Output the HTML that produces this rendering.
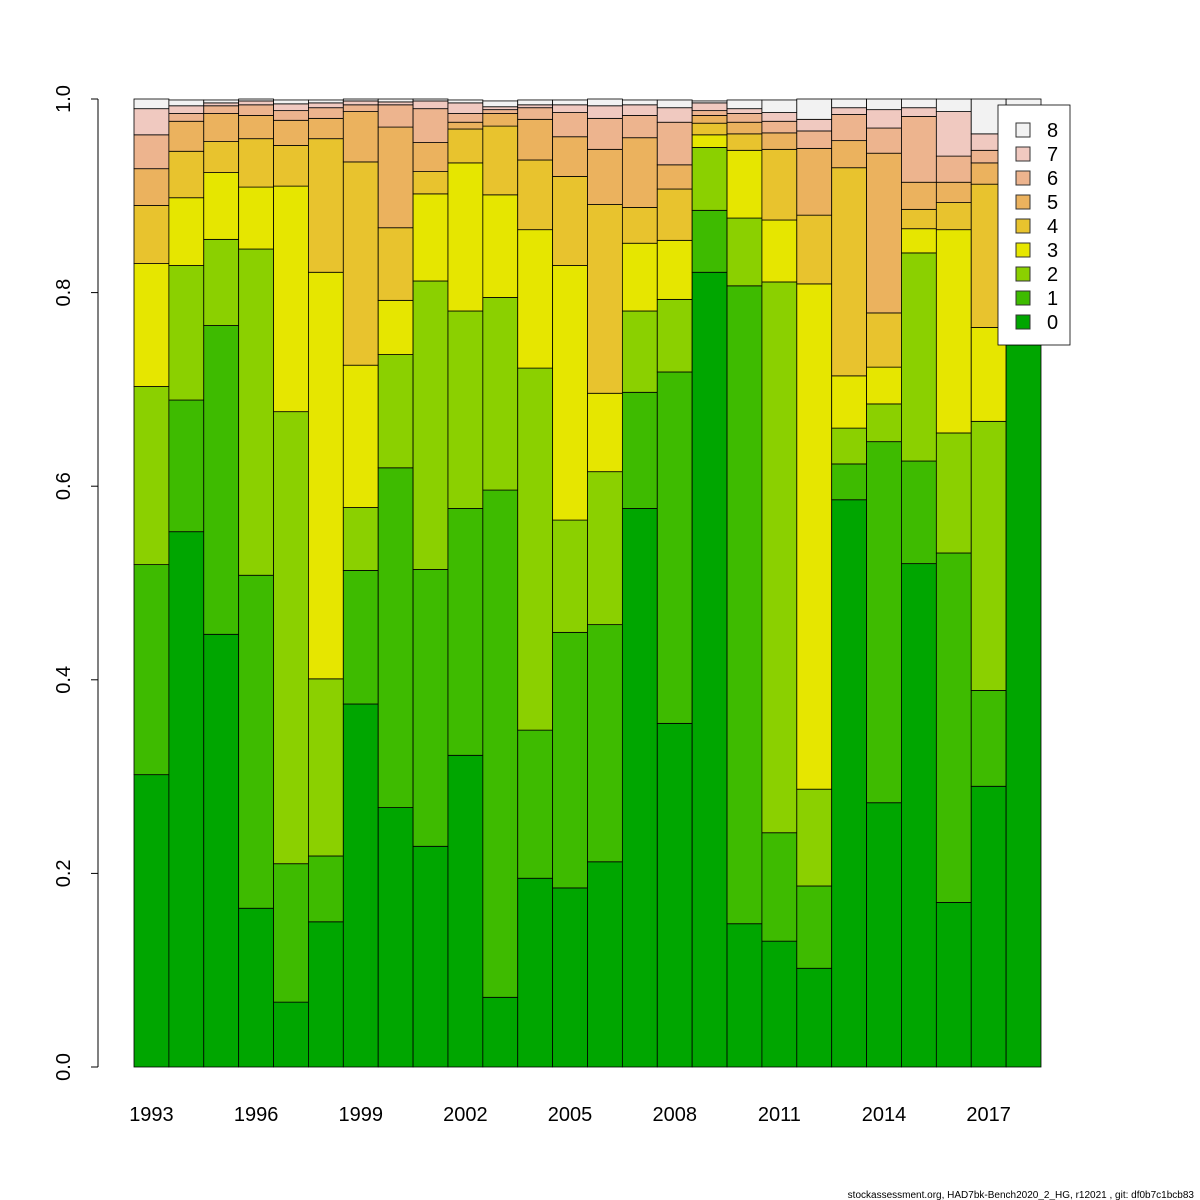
<!DOCTYPE html>
<html><head><meta charset="utf-8"><style>
body{margin:0;background:#fff;}
svg{display:block;font-family:"Liberation Sans","DejaVu Sans",sans-serif;}
</style></head><body>
<svg id="chart" width="1200" height="1200" viewBox="0 0 1200 1200"></svg>
<script>
const years=[1993,1994,1995,1996,1997,1998,1999,2000,2001,2002,2003,2004,2005,2006,2007,2008,2009,2010,2011,2012,2013,2014,2015,2016,2017,2018];
const age0=[.302,.553,.447,.164,.067,.150,.375,.268,.228,.322,.072,.195,.185,.212,.577,.355,.821,.148,.130,.102,.586,.273,.520,.170,.290,.746];
const age1=[.217,.136,.319,.344,.143,.068,.138,.351,.286,.255,.524,.153,.264,.245,.120,.363,.064,.659,.112,.085,.037,.373,.106,.361,.099,.02];
const age2=[.184,.139,.089,.337,.467,.183,.065,.117,.298,.204,.199,.374,.116,.158,.084,.075,.065,.070,.569,.100,.037,.039,.215,.124,.278,.02];
const age3=[.127,.070,.069,.064,.233,.420,.147,.056,.090,.153,.106,.143,.263,.081,.070,.061,.013,.070,.064,.522,.054,.038,.025,.210,.097,.02];
const age4=[.060,.048,.032,.050,.042,.138,.210,.075,.023,.035,.071,.072,.092,.195,.037,.053,.012,.017,.073,.071,.215,.056,.020,.028,.148,.04];
const age5=[.038,.031,.029,.024,.026,.021,.052,.104,.030,.007,.013,.042,.041,.057,.072,.025,.008,.012,.017,.069,.028,.165,.028,.021,.022,.03];
const age6=[.035,.008,.008,.011,.010,.011,.007,.023,.035,.009,.004,.012,.025,.032,.023,.044,.005,.009,.012,.018,.027,.026,.068,.027,.013,.03];
const age7=[.027,.008,.003,.004,.007,.005,.004,.003,.008,.011,.003,.003,.008,.013,.011,.015,.008,.005,.009,.012,.007,.019,.009,.046,.017,.03];
const age8=[.010,.006,.003,.002,.004,.003,.002,.003,.002,.003,.006,.005,.005,.007,.005,.008,.002,.009,.013,.021,.009,.011,.009,.013,.036,.064];
const ageLabels=["0","1","2","3","4","5","6","7","8"];
const yTicks=[0,0.2,0.4,0.6,0.8,1.0];
const yTickLabels=["0.0","0.2","0.4","0.6","0.8","1.0"];
const xLabelYears=[1993,1996,1999,2002,2005,2008,2011,2014,2017];

const series=[age0,age1,age2,age3,age4,age5,age6,age7,age8];
const colors=["#00A600","#3EBB00","#8BD000","#E6E600","#E8C32E","#EBB25E","#EDB48E","#F0C9C0","#F2F2F2"];
const svg=document.getElementById('chart');
const NS="http://www.w3.org/2000/svg";
const x0=134,x1=1041,yb=1067,yt=99;
const bw=(x1-x0)/years.length;
function yS(v){return yb-(yb-yt)*v;}
function xS(i){return x0+i*bw;}
function mk(tag,attrs){const e=document.createElementNS(NS,tag);for(const k in attrs)e.setAttribute(k,attrs[k]);svg.appendChild(e);return e;}

years.forEach((yr,i)=>{
  let cum=0;
  series.forEach((s,k)=>{
    const v=s[i];
    const r=mk('rect',{x:xS(i),y:yS(cum+v),width:bw,height:yS(cum)-yS(cum+v),fill:colors[k],stroke:'#000','stroke-width':0.8});
    
    
    cum+=v;
  });
});

// y axis
const ax=mk('line',{x1:98,y1:yS(0),x2:98,y2:yS(1),stroke:'#000','stroke-width':1});


yTicks.forEach((t,j)=>{
  const tk=mk('line',{x1:91,y1:yS(t),x2:98,y2:yS(t),stroke:'#000','stroke-width':1});
  
  
  const tx=mk('text',{x:70,y:yS(t),'font-size':20,'text-anchor':'middle',transform:'rotate(-90 70 '+yS(t)+')'});
  tx.textContent=yTickLabels[j];
  
  
});
xLabelYears.forEach(yr=>{
  const i=years.indexOf(yr);
  const tx=mk('text',{x:xS(i)+bw/2,y:1121,'font-size':20,'text-anchor':'middle'});
  tx.textContent=String(yr);
  
  
});

// legend
const lg=mk('rect',{x:998,y:105,width:72,height:240,fill:'#fff',stroke:'#000','stroke-width':0.8});


for(let r=0;r<9;r++){
  const k=8-r;
  const cy=130+r*24;
  const sq=mk('rect',{x:1016,y:cy-7,width:14,height:14,fill:colors[k],stroke:'#333','stroke-width':1});
  
  
  const t=mk('text',{x:1047,y:cy+7,'font-size':20});
  t.textContent=ageLabels[k];
  
  
}
const ft=mk('text',{x:1194,y:1198,'font-size':10,'text-anchor':'end'});
ft.textContent='stockassessment.org, HAD7bk-Bench2020_2_HG, r12021 , git: df0b7c1bcb83';


</script>
</body></html>
